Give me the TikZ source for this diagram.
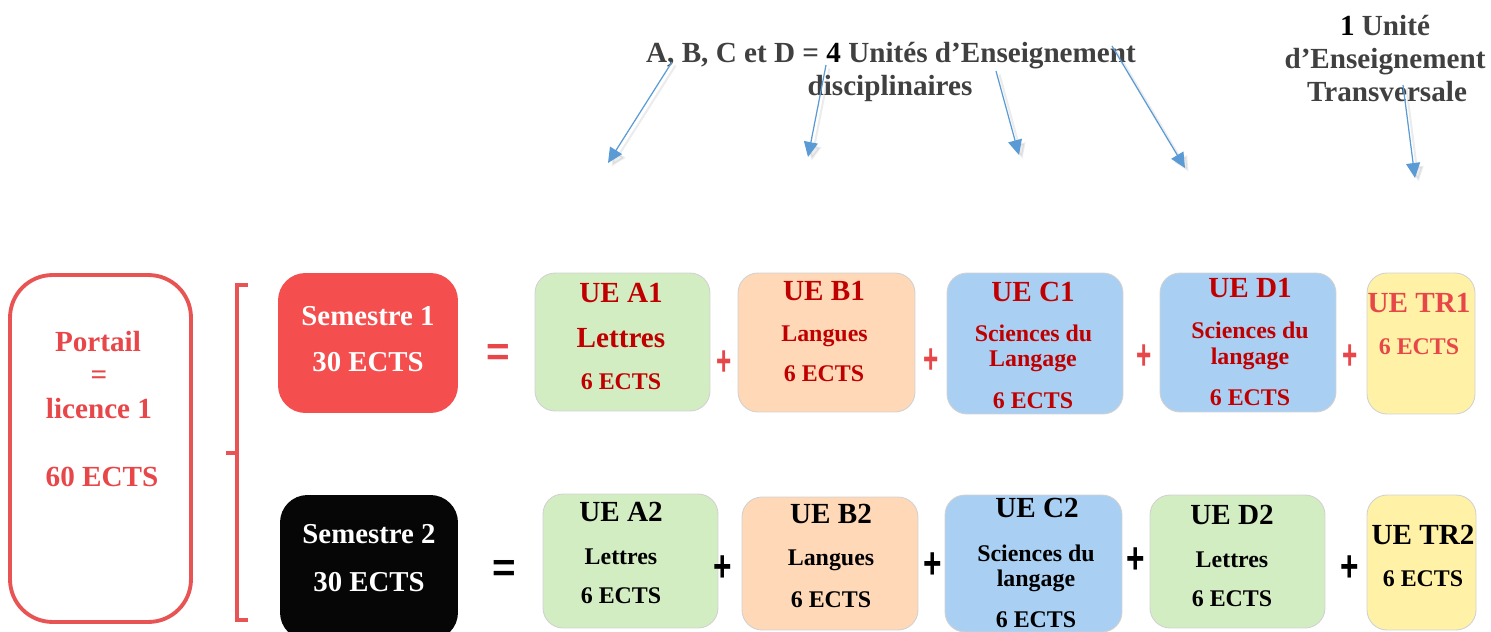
\documentclass[tikz,border=0pt]{standalone}
\usepackage{fontspec}
\setmainfont{Liberation Serif}
\newfontfamily\opfont{Liberation Sans}
\usetikzlibrary{arrows.meta}
\definecolor{ueRed}{HTML}{C00000}
\definecolor{lightRed}{HTML}{E8474A}
\definecolor{semRed}{HTML}{F54E4E}
\definecolor{semBlack}{HTML}{060606}
\definecolor{ueGreen}{HTML}{D3EDC3}
\definecolor{uePeach}{HTML}{FFD8B7}
\definecolor{ueBlue}{HTML}{A9D0F3}
\definecolor{ueYellow}{HTML}{FFF2A6}
\definecolor{headGray}{HTML}{404040}
\definecolor{arrowBlue}{HTML}{5B9BD5}
\definecolor{portRed}{HTML}{E85454}
\tikzset{
  ubox/.style={draw=black!18, line width=0.5pt, rounded corners=0.4cm, inner sep=0},
  sembox/.style={draw=none, rounded corners=0.55cm, inner sep=0},
  portbox/.style={draw=portRed, line width=2.2pt, rounded corners=0.85cm, inner sep=0, fill=white},
  big/.style={font=\fontsize{16.6}{19}\selectfont\bfseries, inner sep=0, text height=11.1pt, text depth=0pt},
  semtxt/.style={font=\fontsize{16.4}{19}\selectfont\bfseries, inner sep=0, text height=11pt, text depth=0pt, text=white},
  small/.style={font=\fontsize{13.6}{16}\selectfont\bfseries, inner sep=0, text height=9.1pt, text depth=0pt},
  plusA/.style={font=\opfont\fontsize{24}{26}\selectfont\bfseries, inner sep=0, text=lightRed},
  plusB/.style={font=\opfont\fontsize{25}{27}\selectfont\bfseries, inner sep=0, text=black},
  eqop/.style={font=\opfont\fontsize{23}{26}\selectfont\bfseries, inner sep=0},
  bracket/.style={draw=portRed, line width=1.9pt},
  pointer/.style={draw=arrowBlue, line width=0.7pt, -{Triangle[length=0.3cm, width=0.28cm]},
    preaction={draw=black!50, opacity=0.15, line width=1.2pt, transform canvas={shift={(2pt,-2pt)}}}},
}
\begin{document}
\begin{tikzpicture}[x=0.02cm, y=-0.02cm]
\path[use as bounding box, clip] (0,0) rectangle (1491,632);

% headings
\node[big, text=headGray] (head1) at (891,52.5) {A, B, C et D = {\color{black}4} Unités d’Enseignement};
\node[big, text=headGray] (head2) at (890,85.5) {disciplinaires};
\node[big, text=headGray] (tr1h) at (1385,25.4) {{\color{black}1} Unité};
\node[big, text=headGray] (tr2h) at (1385,58.7) {d’Enseignement};
\node[big, text=headGray] (tr3h) at (1387,92) {Transversale};

% arrows
\coordinate (a1s) at (672,62);   \coordinate (a1e) at (608,163);
\coordinate (a2s) at (826,65);   \coordinate (a2e) at (808,157);
\coordinate (a3s) at (996,71);   \coordinate (a3e) at (1019,155);
\coordinate (a4s) at (1112,46);  \coordinate (a4e) at (1185,168);
\coordinate (a5s) at (1403,85);  \coordinate (a5e) at (1415,178);
\draw[pointer] (a1s) -- (a1e);
\draw[pointer] (a2s) -- (a2e);
\draw[pointer] (a3s) -- (a3e);
\draw[pointer] (a4s) -- (a4e);
\draw[pointer] (a5s) -- (a5e);

% portail
\node[portbox, minimum width=3.62cm, minimum height=6.94cm] (portail) at (100.5,448.5) {};
\node[big, text=lightRed] (portT) at (98,342) {Portail};
\node[font=\fontsize{16.6}{19}\selectfont\bfseries, inner sep=0, text=lightRed] (portEq) at (99,378) {=};
\node[big, text=lightRed] (portL) at (99,409) {licence 1};
\node[big, text=lightRed] (portE) at (102,477) {60 ECTS};

% bracket
\draw[bracket] (248,285) -- (237,285) -- (237,620) -- (248,620);
\draw[bracket] (237,453) -- (226,453);

% semesters
\node[sembox, fill=semRed, minimum width=3.6cm, minimum height=2.8cm] (s1) at (368,343) {};
\node[semtxt] (s1a) at (368,316) {Semestre 1};
\node[semtxt] (s1b) at (368,362) {30 ECTS};
\node[sembox, fill=semBlack, minimum width=3.56cm, minimum height=2.9cm] (s2) at (369,567.5) {};
\node[semtxt] (s2a) at (369,534) {Semestre 2};
\node[semtxt] (s2b) at (369,582) {30 ECTS};

% equals
\node[eqop, text=lightRed] (eq1) at (498,355) {=};
\node[eqop, text=black] (eq2) at (504,571) {=};

% row 1
\node[ubox, fill=ueGreen, minimum width=3.5cm, minimum height=2.76cm] (A1) at (622.5,342) {};
\node[big, text=ueRed] (A1a) at (621,293) {UE A1};
\node[big, text=ueRed] (A1b) at (621,338) {Lettres};
\node[small, text=ueRed] (A1c) at (621,382) {6 ECTS};

\node[ubox, fill=uePeach, minimum width=3.54cm, minimum height=2.78cm] (B1) at (826.5,342.5) {};
\node[big, text=ueRed] (B1a) at (824,291) {UE B1};
\node[small, text=ueRed] (B1b) at (824.5,334) {Langues};
\node[small, text=ueRed] (B1c) at (824,374) {6 ECTS};

\node[ubox, fill=ueBlue, minimum width=3.52cm, minimum height=2.82cm] (C1) at (1035,343.5) {};
\node[big, text=ueRed] (C1a) at (1033,292) {UE C1};
\node[small, text=ueRed] (C1b) at (1033.5,334) {Sciences du};
\node[small, text=ueRed] (C1c) at (1033,359) {Langage};
\node[small, text=ueRed] (C1d) at (1033,401) {6 ECTS};

\node[ubox, fill=ueBlue, minimum width=3.52cm, minimum height=2.78cm] (D1) at (1248,342.5) {};
\node[big, text=ueRed] (D1a) at (1250,288) {UE D1};
\node[small, text=ueRed] (D1b) at (1250,331) {Sciences du};
\node[small, text=ueRed] (D1c) at (1250,357) {langage};
\node[small, text=ueRed] (D1d) at (1250,398) {6 ECTS};

\node[ubox, fill=ueYellow, minimum width=2.16cm, minimum height=2.82cm] (TR1) at (1421,343.5) {};
\node[big, text=lightRed] (TR1a) at (1419,303) {UE TR1};
\node[small, text=lightRed] (TR1b) at (1419,347) {6 ECTS};

\node[plusA] (p11) at (724,363) {\scalebox{0.62}[1]{+}};
\node[plusA] (p12) at (931,361) {\scalebox{0.62}[1]{+}};
\node[plusA] (p13) at (1144,357) {\scalebox{0.62}[1]{+}};
\node[plusA] (p14) at (1350,357) {\scalebox{0.62}[1]{+}};

% row 2
\node[ubox, fill=ueGreen, minimum width=3.5cm, minimum height=2.68cm] (A2) at (630.5,561) {};
\node[big] (A2a) at (621,512) {UE A2};
\node[small] (A2b) at (621,556) {Lettres};
\node[small] (A2c) at (621,595) {6 ECTS};

\node[ubox, fill=uePeach, minimum width=3.52cm, minimum height=2.66cm] (B2) at (830,563.5) {};
\node[big] (B2a) at (831,514) {UE B2};
\node[small] (B2b) at (831,557) {Langues};
\node[small] (B2c) at (831,599) {6 ECTS};

\node[ubox, fill=ueBlue, minimum width=3.54cm, minimum height=2.74cm] (C2) at (1033.5,563.5) {};
\node[big] (C2a) at (1037,508) {UE C2};
\node[small] (C2b) at (1036,553) {Sciences du};
\node[small] (C2c) at (1036,578) {langage};
\node[small] (C2d) at (1036,619) {6 ECTS};

\node[ubox, fill=ueGreen, minimum width=3.5cm, minimum height=2.66cm] (D2) at (1237.5,561.5) {};
\node[big] (D2a) at (1232,515) {UE D2};
\node[small] (D2b) at (1232,559) {Lettres};
\node[small] (D2c) at (1232,598) {6 ECTS};

\node[ubox, fill=ueYellow, minimum width=2.18cm, minimum height=2.7cm] (TR2) at (1421.5,562.5) {};
\node[big] (TR2a) at (1423,535) {UE TR2};
\node[small] (TR2b) at (1423,578) {6 ECTS};

\node[plusB] (p21) at (723,569) {\scalebox{0.72}[1]{+}};
\node[plusB] (p22) at (933,566) {\scalebox{0.72}[1]{+}};
\node[plusB] (p23) at (1136,561) {\scalebox{0.72}[1]{+}};
\node[plusB] (p24) at (1350,569) {\scalebox{0.72}[1]{+}};
\end{tikzpicture}
\end{document}
